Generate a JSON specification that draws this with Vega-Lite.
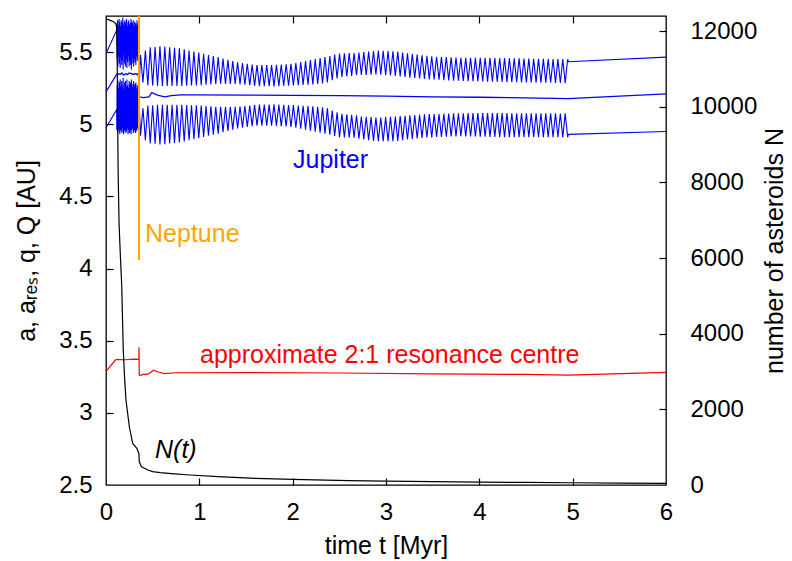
{
"$schema":"https://vega.github.io/schema/vega-lite/v6.json",
"width":560,"height":469,"autosize":"none",
"padding":{"left":106,"top":16,"right":126,"bottom":76},
"config":{"view":{"stroke":"black","strokeWidth":1.3},"font":"Liberation Sans",
"axis":{"grid":false,"domain":false,"tickColor":"black","tickWidth":1.2,"tickSize":7,"labelColor":"black","titleColor":"black","labelFontSize":24,"titleFontSize":25,"titleFontWeight":"normal","labelFont":"Liberation Sans","titleFont":"Liberation Sans"}},
"datasets":{
"jq":[
{"t":0,"Q":5.49,"q":4.975},{"t":0.114,"Q":5.65,"q":5.10},
{"t":0.116,"Q":5.70,"q":4.96},{"t":0.120,"Q":5.45,"q":5.27},
{"t":0.124,"Q":5.72,"q":4.94},{"t":0.128,"Q":5.40,"q":5.30},
{"t":0.132,"Q":5.69,"q":4.97},{"t":0.136,"Q":5.47,"q":5.25},
{"t":0.140,"Q":5.73,"q":4.95},{"t":0.144,"Q":5.42,"q":5.29},
{"t":0.148,"Q":5.71,"q":4.93},{"t":0.152,"Q":5.39,"q":5.31},
{"t":0.156,"Q":5.68,"q":4.96},{"t":0.160,"Q":5.46,"q":5.26},
{"t":0.164,"Q":5.72,"q":4.95},{"t":0.168,"Q":5.41,"q":5.30},
{"t":0.172,"Q":5.70,"q":4.94},{"t":0.176,"Q":5.44,"q":5.27},
{"t":0.180,"Q":5.74,"q":4.97},{"t":0.184,"Q":5.38,"q":5.32},
{"t":0.188,"Q":5.69,"q":4.93},{"t":0.192,"Q":5.48,"q":5.24},
{"t":0.196,"Q":5.71,"q":4.95},{"t":0.200,"Q":5.42,"q":5.29},
{"t":0.204,"Q":5.72,"q":4.96},{"t":0.208,"Q":5.40,"q":5.30},
{"t":0.212,"Q":5.70,"q":4.94},{"t":0.216,"Q":5.45,"q":5.26},
{"t":0.220,"Q":5.73,"q":4.95},{"t":0.224,"Q":5.39,"q":5.31},
{"t":0.228,"Q":5.68,"q":4.97},{"t":0.232,"Q":5.43,"q":5.27},
{"t":0.236,"Q":5.71,"q":4.93},{"t":0.240,"Q":5.47,"q":5.25},
{"t":0.244,"Q":5.72,"q":4.96},{"t":0.248,"Q":5.40,"q":5.30},
{"t":0.252,"Q":5.69,"q":4.94},{"t":0.256,"Q":5.44,"q":5.28},
{"t":0.260,"Q":5.70,"q":4.95},{"t":0.264,"Q":5.41,"q":5.29},
{"t":0.268,"Q":5.73,"q":4.93},{"t":0.272,"Q":5.38,"q":5.31},
{"t":0.276,"Q":5.71,"q":4.96},{"t":0.280,"Q":5.46,"q":5.26},
{"t":0.284,"Q":5.70,"q":4.97},{"t":0.288,"Q":5.42,"q":5.28},
{"t":0.292,"Q":5.72,"q":4.94},{"t":0.296,"Q":5.40,"q":5.30},
{"t":0.300,"Q":5.68,"q":4.95},{"t":0.304,"Q":5.45,"q":5.27},
{"t":0.308,"Q":5.71,"q":4.96},{"t":0.312,"Q":5.43,"q":5.28},
{"t":0.316,"Q":5.70,"q":4.94},{"t":0.320,"Q":5.41,"q":5.29},
{"t":0.324,"Q":5.69,"q":4.95},{"t":0.328,"Q":5.47,"q":5.25},
{"t":0.332,"Q":5.72,"q":4.96},{"t":0.336,"Q":5.44,"q":5.27},
{"t":0.340,"Q":5.70,"q":4.97},{"t":0.344,"Q":5.50,"q":5.22},
{"t":0.350,"Q":5.62,"q":5.00},{"t":0.358,"Q":5.30,"q":5.10},
{"t":0.370,"Q":5.480,"q":4.920},{"t":0.396,"Q":5.290,"q":5.110},
{"t":0.422,"Q":5.510,"q":4.890},{"t":0.448,"Q":5.270,"q":5.130},
{"t":0.474,"Q":5.533,"q":4.867},{"t":0.500,"Q":5.268,"q":5.132},
{"t":0.526,"Q":5.535,"q":4.865},{"t":0.552,"Q":5.266,"q":5.134},
{"t":0.578,"Q":5.540,"q":4.860},{"t":0.604,"Q":5.265,"q":5.135},
{"t":0.630,"Q":5.538,"q":4.862},{"t":0.656,"Q":5.265,"q":5.135},
{"t":0.682,"Q":5.534,"q":4.866},{"t":0.708,"Q":5.265,"q":5.135},
{"t":0.734,"Q":5.530,"q":4.870},{"t":0.760,"Q":5.265,"q":5.135},
{"t":0.786,"Q":5.526,"q":4.874},{"t":0.812,"Q":5.265,"q":5.135},
{"t":0.838,"Q":5.519,"q":4.881},{"t":0.864,"Q":5.267,"q":5.133},
{"t":0.890,"Q":5.511,"q":4.889},{"t":0.916,"Q":5.268,"q":5.132},
{"t":0.942,"Q":5.504,"q":4.896},{"t":0.968,"Q":5.269,"q":5.131},
{"t":0.994,"Q":5.496,"q":4.904},{"t":1.020,"Q":5.271,"q":5.129},
{"t":1.046,"Q":5.488,"q":4.912},{"t":1.072,"Q":5.274,"q":5.126},
{"t":1.098,"Q":5.480,"q":4.920},{"t":1.124,"Q":5.276,"q":5.124},
{"t":1.150,"Q":5.472,"q":4.928},{"t":1.176,"Q":5.279,"q":5.121},
{"t":1.202,"Q":5.465,"q":4.935},{"t":1.228,"Q":5.280,"q":5.120},
{"t":1.254,"Q":5.455,"q":4.945},{"t":1.280,"Q":5.280,"q":5.120},
{"t":1.306,"Q":5.446,"q":4.954},{"t":1.332,"Q":5.280,"q":5.120},
{"t":1.358,"Q":5.437,"q":4.963},{"t":1.384,"Q":5.280,"q":5.120},
{"t":1.410,"Q":5.429,"q":4.971},{"t":1.436,"Q":5.277,"q":5.123},
{"t":1.462,"Q":5.424,"q":4.976},{"t":1.488,"Q":5.274,"q":5.126},
{"t":1.514,"Q":5.419,"q":4.981},{"t":1.540,"Q":5.270,"q":5.130},
{"t":1.566,"Q":5.413,"q":4.987},{"t":1.592,"Q":5.266,"q":5.134},
{"t":1.618,"Q":5.410,"q":4.990},{"t":1.644,"Q":5.264,"q":5.136},
{"t":1.670,"Q":5.410,"q":4.990},{"t":1.696,"Q":5.263,"q":5.137},
{"t":1.722,"Q":5.410,"q":4.990},{"t":1.748,"Q":5.263,"q":5.137},
{"t":1.774,"Q":5.410,"q":4.990},{"t":1.800,"Q":5.262,"q":5.138},
{"t":1.826,"Q":5.411,"q":4.989},{"t":1.852,"Q":5.263,"q":5.137},
{"t":1.878,"Q":5.414,"q":4.986},{"t":1.904,"Q":5.265,"q":5.135},
{"t":1.930,"Q":5.416,"q":4.984},{"t":1.956,"Q":5.267,"q":5.133},
{"t":1.982,"Q":5.419,"q":4.981},{"t":2.008,"Q":5.268,"q":5.132},
{"t":2.034,"Q":5.424,"q":4.976},{"t":2.060,"Q":5.270,"q":5.130},
{"t":2.086,"Q":5.431,"q":4.969},{"t":2.112,"Q":5.272,"q":5.128},
{"t":2.138,"Q":5.437,"q":4.963},{"t":2.164,"Q":5.274,"q":5.126},
{"t":2.190,"Q":5.444,"q":4.956},{"t":2.216,"Q":5.276,"q":5.124},
{"t":2.242,"Q":5.451,"q":4.949},{"t":2.268,"Q":5.279,"q":5.121},
{"t":2.294,"Q":5.458,"q":4.942},{"t":2.320,"Q":5.283,"q":5.117},
{"t":2.346,"Q":5.465,"q":4.935},{"t":2.372,"Q":5.290,"q":5.110},
{"t":2.398,"Q":5.473,"q":4.927},{"t":2.424,"Q":5.305,"q":5.095},
{"t":2.450,"Q":5.482,"q":4.918},{"t":2.476,"Q":5.318,"q":5.082},
{"t":2.502,"Q":5.490,"q":4.910},{"t":2.528,"Q":5.327,"q":5.073},
{"t":2.554,"Q":5.491,"q":4.909},{"t":2.580,"Q":5.331,"q":5.069},
{"t":2.606,"Q":5.493,"q":4.907},{"t":2.632,"Q":5.335,"q":5.065},
{"t":2.658,"Q":5.494,"q":4.906},{"t":2.684,"Q":5.339,"q":5.061},
{"t":2.710,"Q":5.496,"q":4.900},{"t":2.736,"Q":5.341,"q":5.054},
{"t":2.762,"Q":5.500,"q":4.895},{"t":2.788,"Q":5.342,"q":5.052},
{"t":2.814,"Q":5.503,"q":4.890},{"t":2.840,"Q":5.344,"q":5.049},
{"t":2.866,"Q":5.507,"q":4.885},{"t":2.892,"Q":5.345,"q":5.047},
{"t":2.918,"Q":5.510,"q":4.882},{"t":2.944,"Q":5.344,"q":5.047},
{"t":2.970,"Q":5.509,"q":4.882},{"t":2.996,"Q":5.341,"q":5.049},
{"t":3.022,"Q":5.507,"q":4.883},{"t":3.048,"Q":5.338,"q":5.051},
{"t":3.074,"Q":5.506,"q":4.883},{"t":3.100,"Q":5.335,"q":5.053},
{"t":3.126,"Q":5.503,"q":4.885},{"t":3.152,"Q":5.331,"q":5.056},
{"t":3.178,"Q":5.497,"q":4.889},{"t":3.204,"Q":5.327,"q":5.059},
{"t":3.230,"Q":5.492,"q":4.894},{"t":3.256,"Q":5.323,"q":5.062},
{"t":3.282,"Q":5.487,"q":4.898},{"t":3.308,"Q":5.320,"q":5.064},
{"t":3.334,"Q":5.482,"q":4.902},{"t":3.360,"Q":5.317,"q":5.066},
{"t":3.386,"Q":5.478,"q":4.905},{"t":3.412,"Q":5.314,"q":5.068},
{"t":3.438,"Q":5.474,"q":4.908},{"t":3.464,"Q":5.311,"q":5.070},
{"t":3.490,"Q":5.471,"q":4.909},{"t":3.516,"Q":5.310,"q":5.070},
{"t":3.542,"Q":5.468,"q":4.912},{"t":3.568,"Q":5.308,"q":5.071},
{"t":3.594,"Q":5.467,"q":4.912},{"t":3.620,"Q":5.306,"q":5.073},
{"t":3.646,"Q":5.465,"q":4.913},{"t":3.672,"Q":5.304,"q":5.074},
{"t":3.698,"Q":5.463,"q":4.915},{"t":3.724,"Q":5.302,"q":5.076},
{"t":3.750,"Q":5.462,"q":4.915},{"t":3.776,"Q":5.301,"q":5.076},
{"t":3.802,"Q":5.460,"q":4.917},{"t":3.828,"Q":5.300,"q":5.076},
{"t":3.854,"Q":5.460,"q":4.916},{"t":3.880,"Q":5.299,"q":5.077},
{"t":3.906,"Q":5.460,"q":4.915},{"t":3.932,"Q":5.298,"q":5.077},
{"t":3.958,"Q":5.460,"q":4.915},{"t":3.984,"Q":5.297,"q":5.077},
{"t":4.010,"Q":5.460,"q":4.914},{"t":4.036,"Q":5.296,"q":5.078},
{"t":4.062,"Q":5.460,"q":4.913},{"t":4.088,"Q":5.295,"q":5.078},
{"t":4.114,"Q":5.460,"q":4.912},{"t":4.140,"Q":5.295,"q":5.077},
{"t":4.166,"Q":5.459,"q":4.912},{"t":4.192,"Q":5.294,"q":5.077},
{"t":4.218,"Q":5.459,"q":4.911},{"t":4.244,"Q":5.293,"q":5.077},
{"t":4.270,"Q":5.458,"q":4.911},{"t":4.296,"Q":5.292,"q":5.077},
{"t":4.322,"Q":5.457,"q":4.911},{"t":4.348,"Q":5.292,"q":5.076},
{"t":4.374,"Q":5.457,"q":4.910},{"t":4.400,"Q":5.291,"q":5.076},
{"t":4.426,"Q":5.456,"q":4.911},{"t":4.452,"Q":5.290,"q":5.076},
{"t":4.478,"Q":5.455,"q":4.911},{"t":4.504,"Q":5.290,"q":5.076},
{"t":4.530,"Q":5.455,"q":4.911},{"t":4.556,"Q":5.289,"q":5.076},
{"t":4.582,"Q":5.454,"q":4.911},{"t":4.608,"Q":5.288,"q":5.076},
{"t":4.634,"Q":5.454,"q":4.910},{"t":4.660,"Q":5.288,"q":5.075},
{"t":4.686,"Q":5.453,"q":4.910},{"t":4.712,"Q":5.287,"q":5.075},
{"t":4.738,"Q":5.452,"q":4.910},{"t":4.764,"Q":5.287,"q":5.075},
{"t":4.790,"Q":5.452,"q":4.910},{"t":4.816,"Q":5.286,"q":5.075},
{"t":4.842,"Q":5.451,"q":4.910},{"t":4.868,"Q":5.286,"q":5.074},
{"t":4.894,"Q":5.451,"q":4.909},{"t":4.920,"Q":5.285,"q":5.075},
{"t":4.946,"Q":5.450,"q":4.910},
{"t":4.955,"Q":5.433,"q":4.930},{"t":6,"Q":5.465,"q":4.950}
],
"ja":[
{"t":0,"a":5.225},{"t":0.114,"a":5.345},{"t":0.13,"a":5.35},{"t":0.15,"a":5.345},{"t":0.17,"a":5.355},{"t":0.19,"a":5.34},{"t":0.21,"a":5.35},{"t":0.23,"a":5.345},{"t":0.25,"a":5.355},{"t":0.27,"a":5.35},{"t":0.29,"a":5.345},{"t":0.31,"a":5.35},{"t":0.33,"a":5.345},{"t":0.345,"a":5.35},{"t":0.352,"a":5.3},{"t":0.358,"a":5.19},{"t":0.4,"a":5.185},{"t":0.46,"a":5.19},{"t":0.49,"a":5.22},{"t":0.52,"a":5.21},{"t":0.56,"a":5.2},{"t":0.63,"a":5.19},{"t":0.7,"a":5.198},{"t":0.8,"a":5.203},{"t":1.0,"a":5.203},{"t":1.5,"a":5.202},{"t":2.0,"a":5.2},{"t":2.5,"a":5.198},{"t":3.0,"a":5.195},{"t":3.5,"a":5.19},{"t":4.0,"a":5.187},{"t":4.5,"a":5.183},{"t":4.95,"a":5.178},{"t":6.0,"a":5.21}
],
"res":[
{"t":0,"v":3.285},{"t":0.1,"v":3.366},{"t":0.12,"v":3.37},{"t":0.2,"v":3.368},{"t":0.3,"v":3.372},{"t":0.352,"v":3.37},{"t":0.354,"v":3.455},{"t":0.356,"v":3.262},{"t":0.38,"v":3.262},{"t":0.4,"v":3.266},{"t":0.45,"v":3.268},{"t":0.51,"v":3.295},{"t":0.56,"v":3.283},{"t":0.63,"v":3.272},{"t":0.74,"v":3.278},{"t":1.5,"v":3.279},{"t":2.5,"v":3.276},{"t":3.5,"v":3.27},{"t":4.5,"v":3.266},{"t":4.95,"v":3.262},{"t":6,"v":3.28}
],
"nep":[{"t":0.353,"v":5.75},{"t":0.354,"v":4.06}],
"N":[
{"t":0,"N":12320},{"t":0.04,"N":12290},{"t":0.08,"N":12250},{"t":0.105,"N":12200},{"t":0.115,"N":12100},{"t":0.12,"N":11200},{"t":0.125,"N":9600},{"t":0.13,"N":8300},{"t":0.14,"N":6900},{"t":0.155,"N":6000},{"t":0.168,"N":5300},{"t":0.185,"N":3570},{"t":0.2,"N":2800},{"t":0.214,"N":2250},{"t":0.25,"N":1540},{"t":0.286,"N":1100},{"t":0.33,"N":970},{"t":0.352,"N":840},{"t":0.356,"N":620},{"t":0.38,"N":484},{"t":0.45,"N":397},{"t":0.5,"N":352},{"t":0.58,"N":326},{"t":0.7,"N":300},{"t":0.9,"N":264},{"t":1.2,"N":220},{"t":1.6,"N":177},{"t":2.0,"N":150},{"t":2.6,"N":114},{"t":3.0,"N":100},{"t":3.5,"N":88},{"t":4.0,"N":78},{"t":4.5,"N":68},{"t":5.0,"N":60},{"t":5.5,"N":52},{"t":6.0,"N":45}
],
"lab":[
{"t":2.004,"v":4.752,"s":"Jupiter"},{"t":0.418,"v":4.239,"s":"Neptune"},{"t":1.007,"v":3.401,"s":"approximate 2:1 resonance centre"},{"t":0.525,"v":2.743,"s":"N(t)"}
]
},
"layer":[
{"layer":[
{"data":{"name":"jq"},"mark":{"type":"line","color":"#0000ff","strokeWidth":1.1},
 "encoding":{"x":{"field":"t","type":"quantitative","scale":{"domain":[0,6],"nice":false},"axis":{"orient":"bottom","values":[0,1,2,3,4,5,6],"format":"d","ticks":false,"labelPadding":15,"title":"time t [Myr]","titlePadding":9,"labelFlush":false}},
 "y":{"field":"Q","type":"quantitative","scale":{"domain":[2.5,5.75],"nice":false,"zero":false},"axis":{"orient":"left","values":[2.5,3,3.5,4,4.5,5,5.5],"format":"~g","ticks":false,"labelPadding":14,"title":"a, aᵣₑₛ, q, Q [AU]","titlePadding":19}}}},
{"data":{"name":"jq"},"mark":{"type":"line","color":"#0000ff","strokeWidth":1.1},
 "encoding":{"x":{"field":"t","type":"quantitative"},"y":{"field":"q","type":"quantitative"}}},
{"data":{"name":"ja"},"mark":{"type":"line","color":"#0000ff","strokeWidth":1.3},
 "encoding":{"x":{"field":"t","type":"quantitative"},"y":{"field":"a","type":"quantitative"}}},
{"data":{"name":"nep"},"mark":{"type":"line","color":"#ffa500","strokeWidth":2},
 "encoding":{"x":{"field":"t","type":"quantitative"},"y":{"field":"v","type":"quantitative"}}},
{"data":{"name":"res"},"mark":{"type":"line","color":"#ff0000","strokeWidth":1.2},
 "encoding":{"x":{"field":"t","type":"quantitative"},"y":{"field":"v","type":"quantitative"}}},
{"data":{"name":"lab"},"transform":[{"filter":"datum.s==='Jupiter'"}],"mark":{"type":"text","color":"#0000ff","fontSize":25,"align":"left","baseline":"middle"},
 "encoding":{"x":{"field":"t","type":"quantitative"},"y":{"field":"v","type":"quantitative"},"text":{"field":"s"}}},
{"data":{"name":"lab"},"transform":[{"filter":"datum.s==='Neptune'"}],"mark":{"type":"text","color":"#ffa500","fontSize":25,"align":"left","baseline":"middle"},
 "encoding":{"x":{"field":"t","type":"quantitative"},"y":{"field":"v","type":"quantitative"},"text":{"field":"s"}}},
{"data":{"name":"lab"},"transform":[{"filter":"datum.s==='approximate 2:1 resonance centre'"}],"mark":{"type":"text","color":"#ff0000","fontSize":25,"align":"left","baseline":"middle"},
 "encoding":{"x":{"field":"t","type":"quantitative"},"y":{"field":"v","type":"quantitative"},"text":{"field":"s"}}},
{"data":{"name":"lab"},"transform":[{"filter":"datum.s==='N(t)'"}],"mark":{"type":"text","color":"black","fontSize":25,"fontStyle":"italic","align":"left","baseline":"middle"},
 "encoding":{"x":{"field":"t","type":"quantitative"},"y":{"field":"v","type":"quantitative"},"text":{"field":"s"}}}
]},
{"data":{"name":"N"},"mark":{"type":"line","color":"black","strokeWidth":1.2},
 "encoding":{"x":{"field":"t","type":"quantitative","axis":{"orient":"top","values":[1,2,3,4,5],"labels":false,"title":null,"offset":-7}},
 "y":{"field":"N","type":"quantitative","scale":{"domain":[0,12400],"nice":false},"axis":{"orient":"right","values":[0,2000,4000,6000,8000,10000,12000],"format":"d","ticks":false,"labelPadding":24,"title":"number of asteroids N","titleAngle":270,"titleBaseline":"top","titlePadding":6}}}},
{"data":{"name":"nep"},"mark":{"type":"line","opacity":0},
 "encoding":{"x":{"field":"t","type":"quantitative","axis":{"orient":"bottom","values":[1,2,3,4,5],"labels":false,"title":null,"offset":-7}},
 "y":{"field":"v","type":"quantitative","scale":{"domain":[2.5,5.75],"nice":false,"zero":false},"axis":{"orient":"left","values":[3,3.5,4,4.5,5,5.5],"labels":false,"title":null,"offset":-7}}}},
{"data":{"name":"N"},"mark":{"type":"line","opacity":0},
 "encoding":{"x":{"field":"t","type":"quantitative","axis":null},
 "y":{"field":"N","type":"quantitative","scale":{"domain":[0,12400],"nice":false},"axis":{"orient":"right","values":[2000,4000,6000,8000,10000,12000],"labels":false,"title":null,"offset":-7}}}}
],
"resolve":{"scale":{"y":"independent"},"axis":{"x":"independent","y":"independent"}}
}
